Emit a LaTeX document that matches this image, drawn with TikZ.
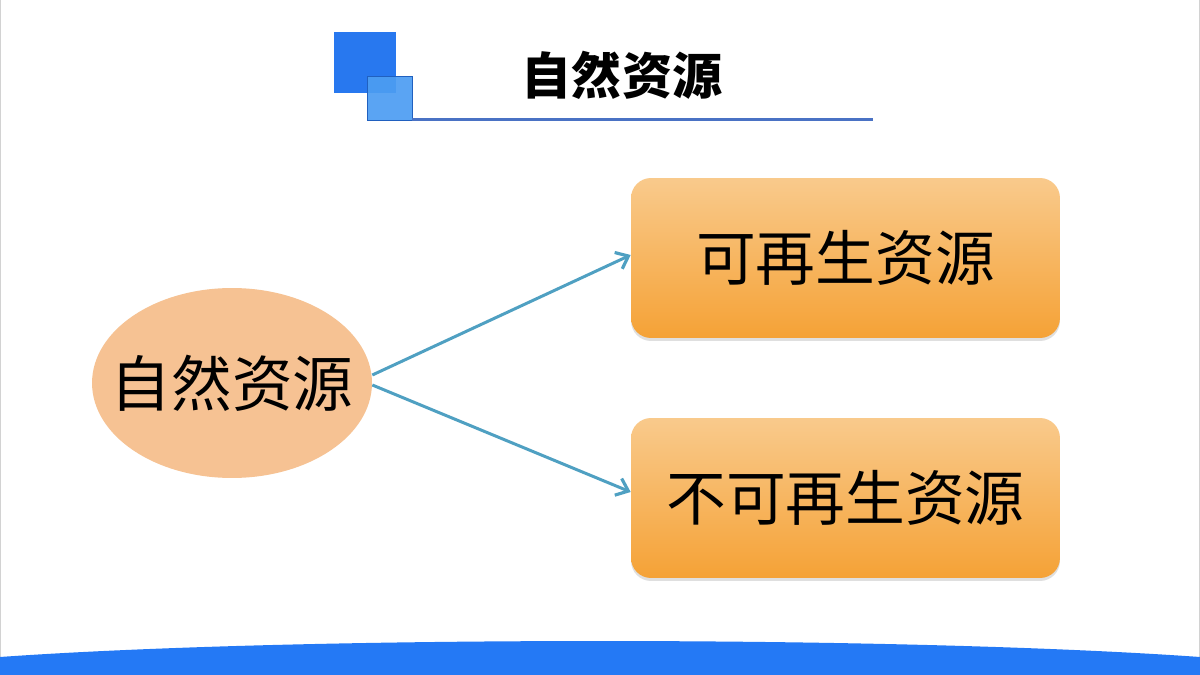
\documentclass[tikz,border=0pt]{standalone}
\usepackage{fontspec}
\newfontfamily\cjk{Noto Sans CJK SC}
\usetikzlibrary{shapes.geometric,arrows.meta,shadows}
\definecolor{sqblue}{HTML}{2878EF}
\definecolor{sqlight}{HTML}{4C9DF2}
\definecolor{ruleblue}{HTML}{4A72C4}
\definecolor{peach}{HTML}{F6C293}
\definecolor{boxtop}{HTML}{F9CA8C}
\definecolor{boxbot}{HTML}{F5A236}
\definecolor{arrowc}{HTML}{4FA0C2}
\definecolor{bandblue}{HTML}{2479F5}
\tikzset{
  rootnode/.style={ellipse, fill=peach, minimum width=5.6cm, minimum height=3.8cm, inner sep=0pt},
  roottext/.style={font=\cjk\fontsize{34.5}{38}\selectfont, text=black, inner sep=0pt},
  resbox/.style={rectangle, rounded corners=0.4cm, top color=boxtop, bottom color=boxbot,
    minimum width=8.58cm, minimum height=3.2cm, inner sep=0pt,
    font=\cjk\fontsize{34}{38}\selectfont, text=black,
    drop shadow={shadow xshift=0cm, shadow yshift=-0.06cm, opacity=0.25, fill=gray}},
  link/.style={draw=arrowc, line width=1.7pt, -{Straight Barb[length=0.22cm, width=0.36cm, line width=1.8pt]}},
  titletext/.style={font=\cjk\bfseries\fontsize{28.5}{32}\selectfont, text=black}
}
\begin{document}
\begin{tikzpicture}[x=0.02cm, y=-0.02cm]
\path[use as bounding box, fill=white] (0,0) rectangle (1200,675);
% side frame lines
\draw[draw=gray!35, line width=0.5pt] (0.5,0) -- (0.5,675);
\draw[draw=gray!35, line width=0.5pt] (1199.5,0) -- (1199.5,675);
% title decoration
\fill[sqblue] (334,32) rectangle (396,93);
\fill[sqlight, fill opacity=0.92] (367,76) rectangle (412,120);
\draw[draw=sqblue!80!black, line width=0.5pt] (367,76) rectangle (412,120);
\coordinate (ruleL) at (412,119.5);
\coordinate (ruleR) at (873,119.5);
\draw[draw=ruleblue, line width=1.3pt] (ruleL) -- (ruleR);
\node[titletext] (title) at (622,75) {自然资源};
% nodes
\node[rootnode] (root) at (232,383) {};
\node[roottext] (roottxt) at (root.center) {自然资源};
\node[resbox] (r1) at (845.5,258) {可再生资源};
\node[resbox] (r2) at (845.5,498) {不可再生资源};
% connectors
\draw[link] ([yshift=0.16cm]root.east) -- ([yshift=0.06cm]r1.west);
\draw[link] ([yshift=-0.04cm]root.east) -- ([yshift=0.12cm]r2.west);
% bottom band
\fill[bandblue] (0,657) .. controls (300,635.7) and (900,635.7) .. (1200,657) -- (1200,675) -- (0,675) -- cycle;
\end{tikzpicture}
\end{document}
